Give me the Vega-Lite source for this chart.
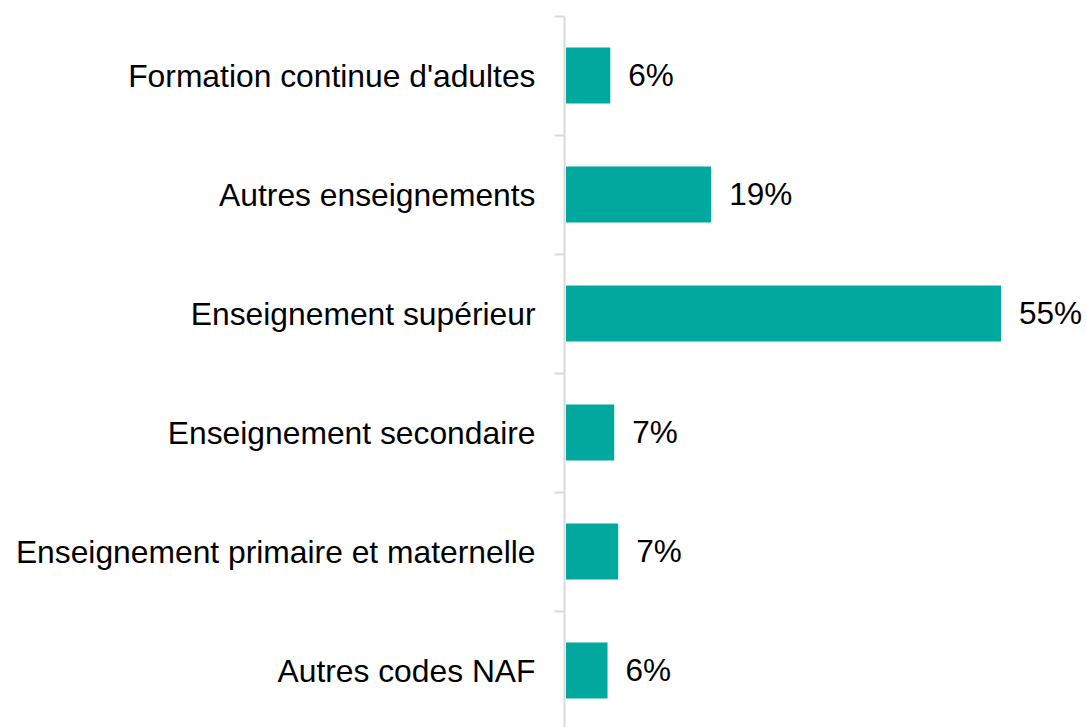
{
  "$schema": "https://vega.github.io/schema/vega-lite/v6.json",
  "autosize": {"type": "none"},
  "padding": {"left": 564, "top": 16, "right": 87, "bottom": 0},
  "width": 435,
  "height": 714,
  "background": "white",
  "config": {"view": {"stroke": null}, "font": "Liberation Sans"},
  "data": {"values": [
    {"cat": "Formation continue d'adultes", "value": 5.6, "label": "6%"},
    {"cat": "Autres enseignements", "value": 18.35, "label": "19%"},
    {"cat": "Enseignement supérieur", "value": 55, "label": "55%"},
    {"cat": "Enseignement secondaire", "value": 6.1, "label": "7%"},
    {"cat": "Enseignement primaire et maternelle", "value": 6.6, "label": "7%"},
    {"cat": "Autres codes NAF", "value": 5.25, "label": "6%"}
  ]},
  "encoding": {
    "y": {
      "field": "cat", "type": "nominal", "sort": null,
      "scale": {"paddingInner": 0, "paddingOuter": 0},
      "axis": {
        "title": null, "tickBand": "extent", "labelFontSize": 31.8, "labelColor": "#000000",
        "labelFont": "Liberation Sans", "labelPadding": 19, "tickSize": 10,
        "tickColor": "#d9d9d9", "tickWidth": 2, "domainColor": "#d9d9d9", "domainWidth": 2,
        "labelLimit": 0, "labelOffset": 1
      }
    },
    "x": {"field": "value", "type": "quantitative", "scale": {"domain": [0, 55]}, "axis": null}
  },
  "layer": [
    {"mark": {"type": "bar", "color": "#00A89D", "height": {"band": 0.47}, "xOffset": 2}},
    {"mark": {"type": "text", "align": "left", "baseline": "middle", "dx": 20, "dy": 1, "fontSize": 31.5, "color": "#000000", "font": "Liberation Sans"},
     "encoding": {"text": {"field": "label"}}}
  ]
}
